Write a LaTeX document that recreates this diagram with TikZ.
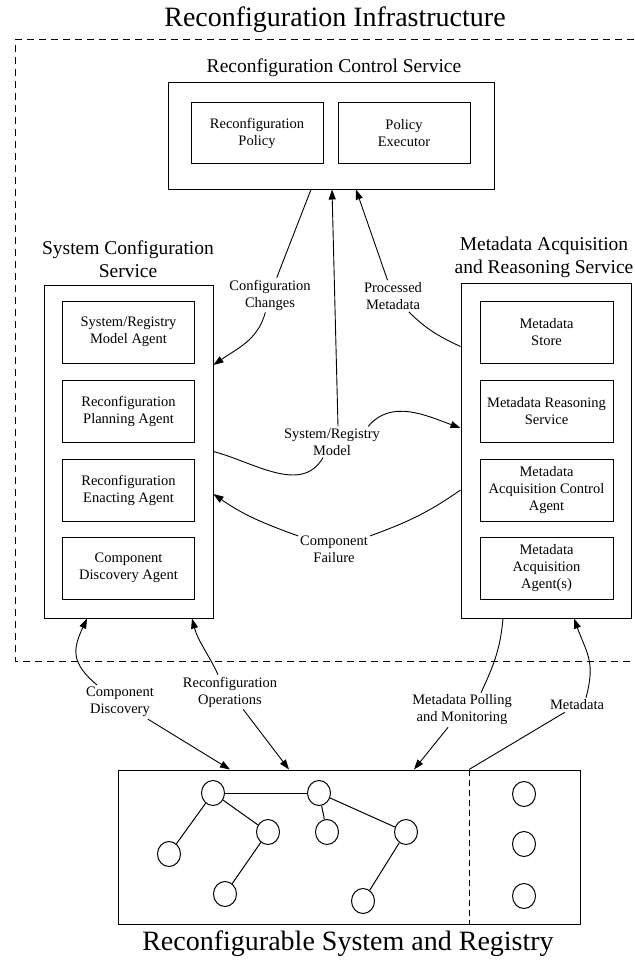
\documentclass[tikz,border=0pt]{standalone}
\usepackage{fontspec}
\setmainfont{Liberation Serif}
\usetikzlibrary{arrows.meta,calc,shapes.geometric}
\newcommand\ttlfont{\fontsize{28}{32}\selectfont}
\newcommand\secfont{\fontsize{19.5}{23}\selectfont}
\newcommand\smfont{\fontsize{14.5}{17}\selectfont}

\begin{document}
\begin{tikzpicture}[x=1pt,y=1pt,
  box/.style={draw, line width=1pt, align=center, font=\smfont, inner sep=0pt},
  heading/.style={align=center, font=\secfont, inner sep=0pt},
  bigtitle/.style={font=\ttlfont, inner sep=0pt},
  lbl/.style={align=center, font=\smfont, inner sep=2pt},
  conn/.style={line width=0.9pt},
  arr/.style={conn, -{Triangle[length=10pt,width=7pt]}},
  vert/.style={draw, ellipse, line width=1pt, minimum width=23pt, minimum height=25pt, inner sep=0pt},
  treeline/.style={line width=1pt},
  frame/.style={line width=1pt, dash pattern=on 7pt off 5pt}
]
\useasboundingbox (0,0) rectangle (634,-960);

% infrastructure frame (open on the right)
\node[bigtitle, anchor=base] (ttl) at (335,-27) {Reconfiguration Infrastructure};
\draw[frame] (634,-40) -- (15,-40) -- (15,-661) -- (634,-661);

% reconfiguration control service
\node[heading, anchor=base] (rcsh) at (334,-73) {Reconfiguration Control Service};
\node[box, minimum width=326pt, minimum height=106pt] (rcs) at (331,-136) {};
\node[box, minimum width=132pt, minimum height=61pt] (rp) at (257,-133.5) {Reconfiguration\\Policy};
\node[box, minimum width=132pt, minimum height=61pt] (pe) at (404,-133.5) {Policy\\Executor};

% system configuration service
\node[heading] (scsh) at (128,-259) {System Configuration\\Service};
\node[box, minimum width=169pt, minimum height=333pt] (scs) at (128.5,-451.5) {};
\node[box, minimum width=132pt, minimum height=62pt] (s1) at (128.5,-332) {System/Registry\\Model Agent};
\node[box, minimum width=132pt, minimum height=62pt] (s2) at (128.5,-411) {Reconfiguration\\Planning Agent};
\node[box, minimum width=132pt, minimum height=62pt] (s3) at (128.5,-490) {Reconfiguration\\Enacting Agent};
\node[box, minimum width=132pt, minimum height=62pt] (s4) at (128.5,-568) {Component\\Discovery Agent};

% metadata acquisition and reasoning service
\node[heading] (marsh) at (544,-257) {Metadata Acquisition\\and Reasoning Service};
\node[box, minimum width=170pt, minimum height=335pt] (mars) at (546,-450.5) {};
\node[box, minimum width=133pt, minimum height=62pt] (m1) at (546.5,-332) {Metadata\\Store};
\node[box, minimum width=133pt, minimum height=62pt] (m2) at (546.5,-411) {Metadata Reasoning\\Service};
\node[box, minimum width=133pt, minimum height=62pt] (m3) at (546.5,-490) {Metadata\\Acquisition Control\\Agent};
\node[box, minimum width=133pt, minimum height=62pt] (m4) at (546.5,-568) {Metadata\\Acquisition\\Agent(s)};

% reconfigurable system and registry
\node[box, minimum width=462pt, minimum height=154pt] (rs) at (349,-847) {};
\node[bigtitle, anchor=base] (rsh) at (348,-950) {Reconfigurable System and Registry};
\draw[line width=1pt, dash pattern=on 6pt off 4pt] ($(rs.north)+(120,0)$) -- ($(rs.south)+(120,0)$);

\node[vert] (va) at (213,-793) {};
\node[vert] (vb) at (319,-793) {};
\node[vert] (vc) at (268,-832) {};
\node[vert] (vd) at (169,-854) {};
\node[vert] (ve) at (327,-832) {};
\node[vert] (vf) at (406,-832) {};
\node[vert] (vg) at (225,-894) {};
\node[vert] (vh) at (363,-901) {};
\node[vert] (r1) at (524,-794) {};
\node[vert] (r2) at (524,-844) {};
\node[vert] (r3) at (524,-896) {};
\draw[treeline] (va) -- (vb);
\draw[treeline] (va) -- (vd);
\draw[treeline] (va) -- (vc);
\draw[treeline] (vc) -- (vg);
\draw[treeline] (vb) -- (ve);
\draw[treeline] (vb) -- (vf);
\draw[treeline] (vf) -- (vh);

% configuration changes
\node[lbl] (cc) at (270,-295) {Configuration\\Changes};
\draw[conn] ($(rcs.south)+(-20,0)$) -- (cc);
\draw[arr] (cc) to[out=-105,in=35] ($(scs.east)+(0,86.5)$);

% processed metadata
\node[lbl] (pm) at (393,-296) {Processed\\Metadata};
\draw[arr] (pm) -- ($(rcs.south)+(25,0)$);
\draw[conn] ($(mars.west)+(0,104)$) to[out=155,in=-45] (pm);

% system/registry model
\node[lbl] (sr) at (332,-442) {System/Registry\\Model};
\draw[arr] ([xshift=6pt]sr.north) -- ($(rcs.south)+(1,0)$);
\draw[conn] (scs.east) to[out=-15,in=-120] (sr);
\draw[arr] ([xshift=-14pt]sr.north east) to[out=50,in=160] ($(mars.west)+(0,22.5)$);

% component failure
\node[lbl] (cf) at (334,-549) {Component\\Failure};
\draw[conn] ($(mars.west)+(0,-39.5)$) to[out=-145,in=20] (cf);
\draw[arr] (cf) to[out=160,in=-35] ($(scs.east)+(0,-42.5)$);

% component discovery
\node[lbl] (cd) at (120,-702) {Component\\Discovery};
\draw[arr] ([xshift=13pt]cd.north west) to[out=140,in=-115,looseness=1.3] ($(scs.south)+(-41.5,0)$);
\draw[arr] (cd) -- ($(rs.north)+(-119,0)$);

% reconfiguration operations
\node[lbl] (ro) at (230,-692) {Reconfiguration\\Operations};
\draw[arr] ([xshift=-12pt]ro.north) to[out=115,in=-75] ($(scs.south)+(63.5,0)$);
\draw[arr] (ro) -- ($(rs.north)+(-60,0)$);

% metadata polling and monitoring
\node[lbl] (mp) at (462,-710) {Metadata Polling\\and Monitoring};
\draw[conn] ($(mars.south)+(-43,0)$) to[out=-95,in=65] ([xshift=19pt]mp.north);
\draw[arr] (mp) -- ($(rs.north)+(65,0)$);

% metadata
\node[lbl] (md) at (577,-705) {Metadata};
\draw[arr] ([xshift=9pt]md.north) to[out=75,in=-70,looseness=1.2] ($(mars.south)+(28,0)$);
\draw[conn] (md) -- ($(rs.north)+(120,0)$);
\end{tikzpicture}
\end{document}
